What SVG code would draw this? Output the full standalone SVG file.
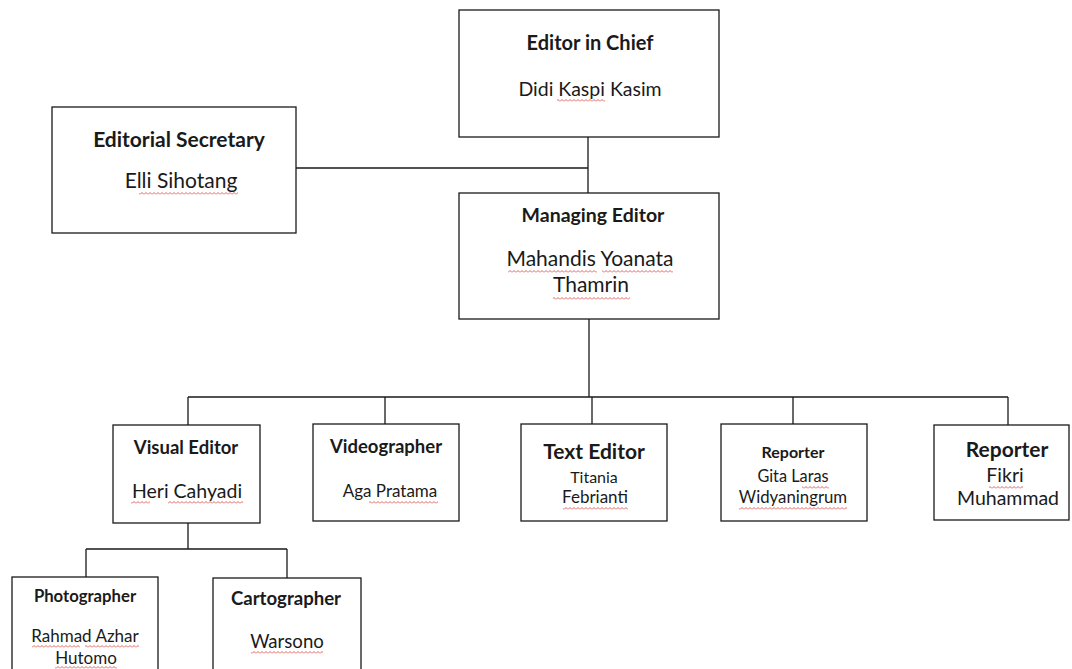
<svg xmlns="http://www.w3.org/2000/svg" width="1072" height="669" viewBox="0 0 1072 669">
<defs>
<pattern id="sq" width="4" height="3" patternUnits="userSpaceOnUse"><path d="M0 2.5 L2 0.5 L4 2.5" stroke="#d9383a" fill="none" stroke-width="0.8"/></pattern>
<style>
.box{fill:#fff;stroke:#1a1a1a;stroke-width:1.3}
.ln{stroke:#1a1a1a;stroke-width:1.3;fill:none}
text{font-family:Lato,"Open Sans","Liberation Sans",sans-serif;fill:#1a1a1a;text-anchor:middle}
.b{font-weight:bold}
.sq{fill:url(#sq)}
</style>
</defs>
<rect width="1072" height="669" fill="#fff"/>
<g id="connectors">
<path class="ln" d="M588 137 V193 M296 168 H588 M589 319 V397 M188 397 H1008 M188 397 V425 M385 397 V424 M592 397 V424 M793 397 V424 M1008 397 V425 M188 523 V549 M86 549 H287 M86 549 V577 M287 549 V578"/>
</g>
<g id="editor-in-chief">
<rect class="box" x="459" y="10" width="260" height="127"/>
<text class="b" x="590" y="50" font-size="20">Editor in Chief</text>
<text x="590" y="96" font-size="19.5">Didi Kaspi Kasim</text>
<rect class="sq" x="557" y="99" width="48" height="3"/>
</g>
<g id="editorial-secretary">
<rect class="box" x="52" y="107" width="244" height="126"/>
<text class="b" x="179" y="147" font-size="21">Editorial Secretary</text>
<text x="181" y="188" font-size="21">Elli Sihotang</text>
<rect class="sq" x="139" y="192" width="99" height="3"/>
</g>
<g id="managing-editor">
<rect class="box" x="459" y="193" width="260" height="126"/>
<text class="b" x="593" y="222" font-size="19.5">Managing Editor</text>
<text x="590" y="266" font-size="21">Mahandis Yoanata</text>
<text x="591" y="292" font-size="21">Thamrin</text>
<rect class="sq" x="508" y="270" width="89" height="3"/>
<rect class="sq" x="602" y="270" width="71" height="3"/>
<rect class="sq" x="553" y="297" width="77" height="3"/>
</g>
<g id="visual-editor">
<rect class="box" x="113" y="425" width="147" height="98"/>
<text class="b" x="186" y="454" font-size="18.5">Visual Editor</text>
<text x="187" y="498" font-size="19.5">Heri Cahyadi</text>
<rect class="sq" x="131" y="501" width="19" height="3"/>
<rect class="sq" x="168" y="501" width="75" height="3"/>
</g>
<g id="videographer">
<rect class="box" x="313" y="424" width="146" height="97"/>
<text class="b" x="386" y="453" font-size="18.5">Videographer</text>
<text x="390" y="497" font-size="17">Aga Pratama</text>
<rect class="sq" x="369" y="501" width="69" height="3"/>
</g>
<g id="text-editor">
<rect class="box" x="521" y="424" width="146" height="97"/>
<text class="b" x="594" y="459" font-size="21">Text Editor</text>
<text x="594" y="483" font-size="16">Titania</text>
<text x="595" y="503" font-size="17">Febrianti</text>
<rect class="sq" x="563" y="507" width="65" height="3"/>
</g>
<g id="reporter-gita">
<rect class="box" x="721" y="424" width="146" height="97"/>
<text class="b" x="793" y="458" font-size="16">Reporter</text>
<text x="793" y="482" font-size="16.3">Gita Laras</text>
<text x="793" y="503" font-size="16.8">Widyaningrum</text>
<rect class="sq" x="802" y="486" width="27" height="3"/>
<rect class="sq" x="739" y="507" width="108" height="3"/>
</g>
<g id="reporter-fikri">
<rect class="box" x="934" y="425" width="135" height="95"/>
<text class="b" x="1007" y="457" font-size="21">Reporter</text>
<text x="1005" y="482" font-size="19.5">Fikri</text>
<text x="1008" y="505" font-size="19.5">Muhammad</text>
<rect class="sq" x="989" y="486" width="34" height="3"/>
</g>
<g id="photographer">
<rect class="box" x="12" y="577" width="146" height="100"/>
<text class="b" x="85" y="602" font-size="16.7">Photographer</text>
<text x="85" y="642" font-size="17">Rahmad Azhar</text>
<text x="86" y="664" font-size="17">Hutomo</text>
<rect class="sq" x="32" y="645" width="48" height="3"/>
<rect class="sq" x="85" y="645" width="54" height="3"/>
<rect class="sq" x="55" y="666" width="62" height="3"/>
</g>
<g id="cartographer">
<rect class="box" x="213" y="578" width="148" height="100"/>
<text class="b" x="286" y="605" font-size="18.6">Cartographer</text>
<text x="287" y="648" font-size="18.6">Warsono</text>
<rect class="sq" x="251" y="651" width="72" height="3"/>
</g>
</svg>
